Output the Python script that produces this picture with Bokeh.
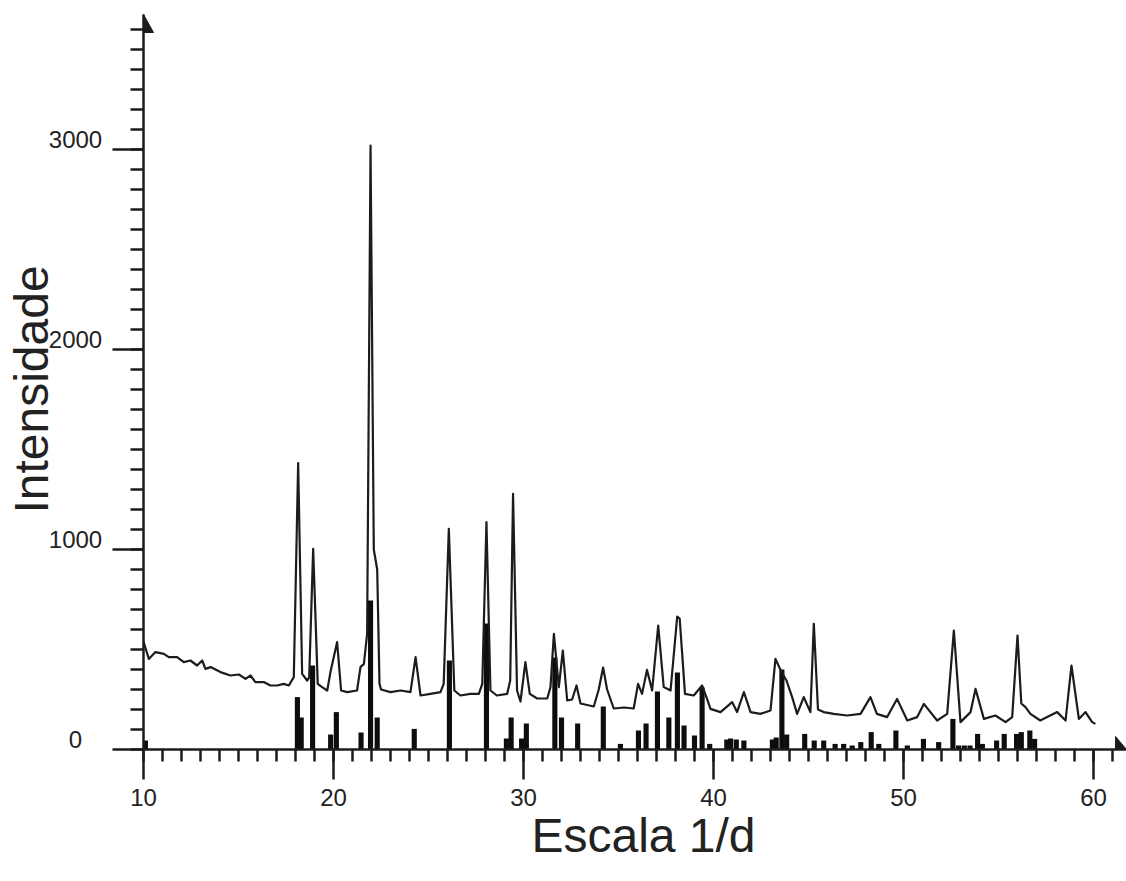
from math import pi
from bokeh.plotting import figure
from bokeh.models import (LinearAxis, SingleIntervalTicker, Range1d, Label, LabelSet,
                          ColumnDataSource, CustomJSTickFormatter)
from bokeh.core.properties import value
from bokeh.embed import file_html
from bokeh.resources import INLINE

# ---------------- data ----------------
trace_x = [10.0, 10.28, 10.63, 11.07, 11.33, 11.77, 12.12, 12.47, 12.82, 13.09, 13.26, 13.53,
           14.05, 14.58, 15.02, 15.37, 15.63, 15.89, 16.33, 16.68, 17.04, 17.38, 17.65, 17.91,
           18.14, 18.35, 18.61, 18.72, 18.93, 19.17, 19.4, 19.67, 19.84, 20.19, 20.4, 20.72,
           21.24, 21.42, 21.6, 21.77, 21.95, 22.12, 22.3, 22.42, 22.5, 23.0, 23.53, 24.05,
           24.32, 24.58, 25.1, 25.63, 25.8, 26.07, 26.36, 26.68, 27.2, 27.65, 27.83, 28.05,
           28.26, 28.6, 29.14, 29.3, 29.45, 29.66, 29.84, 30.1, 30.33, 30.72, 31.25, 31.42,
           31.6, 31.86, 32.07, 32.3, 32.56, 32.79, 33.0, 33.7, 33.96, 34.19, 34.4, 34.75,
           35.3, 35.8, 36.03, 36.24, 36.5, 36.77, 37.09, 37.38, 37.74, 38.09, 38.22, 38.5,
           38.96, 39.4, 39.66, 39.84, 40.37, 40.98, 41.24, 41.6, 41.95, 42.47, 43.0, 43.26,
           43.58, 43.84, 44.14, 44.4, 44.75, 45.1, 45.28, 45.5, 45.8, 46.33, 47.03, 47.74,
           48.26, 48.6, 49.14, 49.66, 50.2, 50.72, 51.07, 51.77, 52.3, 52.65, 53.0, 53.53,
           53.79, 54.23, 54.84, 55.37, 55.72, 56.0, 56.2, 56.42, 56.68, 57.2, 57.56, 58.09,
           58.53, 58.84, 59.23, 59.58, 59.93, 60.1]
trace_y = [540, 453, 487, 478, 462, 462, 437, 445, 420, 445, 403, 412,
           387, 370, 375, 353, 370, 337, 337, 320, 320, 328, 320, 362,
           1432, 378, 345, 360, 1003, 328, 312, 295, 387, 537, 295, 287,
           295, 412, 428, 578, 3020, 1000, 900, 330, 300, 287, 295, 287,
           462, 270, 278, 287, 328, 1103, 295, 270, 278, 278, 328, 1137,
           295, 270, 278, 345, 1278, 295, 240, 437, 278, 255, 255, 312,
           578, 312, 495, 245, 250, 320, 230, 215, 300, 410, 300, 205,
           210, 205, 328, 278, 398, 295, 620, 312, 295, 665, 655, 278,
           270, 320, 253, 203, 187, 237, 187, 287, 187, 178, 195, 453,
           387, 345, 262, 178, 262, 187, 628, 200, 187, 178, 170, 178,
           262, 178, 162, 253, 145, 162, 228, 145, 178, 595, 137, 187,
           303, 153, 170, 137, 162, 570, 230, 212, 178, 145, 162, 187,
           145, 420, 153, 187, 137, 128]

stick_x = [10.1, 18.1, 18.3, 18.9, 19.85, 20.15, 21.45, 21.95, 22.3, 24.25, 26.1, 28.05,
           29.1, 29.35, 29.9, 30.15, 31.65, 32.0, 32.85, 34.2, 35.1, 36.05, 36.45, 37.05,
           37.65, 38.1, 38.45, 39.0, 39.4, 39.8, 40.7, 40.9, 41.2, 41.6, 43.1, 43.3,
           43.6, 43.85, 44.8, 45.3, 45.8, 46.4, 46.85, 47.3, 47.75, 48.3, 48.7, 49.6,
           50.2, 51.05, 51.85, 52.6, 52.9, 53.2, 53.5, 53.9, 54.15, 54.9, 55.3, 55.95,
           56.2, 56.65, 56.9]
stick_h = [45, 262, 160, 420, 75, 187, 85, 745, 160, 103, 445, 630,
           55, 160, 55, 130, 460, 160, 130, 215, 28, 95, 130, 290,
           160, 385, 120, 70, 310, 28, 50, 55, 50, 45, 50, 60,
           400, 75, 78, 45, 45, 28, 28, 20, 37, 87, 28, 95,
           20, 53, 37, 153, 20, 20, 20, 78, 28, 45, 78, 78,
           87, 95, 53]

y_ticks = [0, 1000, 2000, 3000]
y_tick_labels = ["0", "1000", "2000", "3000"]
x_title = "Escala 1/d"
y_title = "Intensidade"

# ---------------- layout ----------------
W, H = 1126, 881              # figure size (the page template has no margin)
ORIGIN_PX = (143, 749)        # pixel position of the axes origin inside the figure
PX_X, PX_Y = 19.0, 0.2        # pixels per data unit
X_ORIGIN, Y_ORIGIN = 10, 0
X_START = X_ORIGIN - ORIGIN_PX[0] / PX_X
X_END = X_ORIGIN + (W - ORIGIN_PX[0]) / PX_X
Y_START = Y_ORIGIN - (H - ORIGIN_PX[1]) / PX_Y
Y_END = Y_ORIGIN + ORIGIN_PX[1] / PX_Y
Y_TIP = Y_ORIGIN + (ORIGIN_PX[1] - 14) / PX_Y  # top of the y axis arrow
X_TIP = X_END                                  # right end of the x axis arrow

INK = "#1c1c1c"
TXT = "#222222"
FONT = "Liberation Sans"

p = figure(width=W, height=H, x_range=Range1d(X_START, X_END), y_range=Range1d(Y_START, Y_END),
           x_axis_location=None, y_axis_location=None, toolbar_location=None,
           output_backend="svg", min_border_left=0, min_border_right=0,
           min_border_top=0, min_border_bottom=0)
p.grid.visible = False
p.outline_line_color = None
p.background_fill_color = "white"
p.border_fill_color = "white"


def style(ax, major_out, minor_out):
    ax.major_tick_out = major_out
    ax.major_tick_in = 0
    ax.minor_tick_out = minor_out
    ax.minor_tick_in = 0
    ax.axis_line_width = 2.5
    ax.major_tick_line_width = 2.5
    ax.minor_tick_line_width = 2.5
    ax.axis_line_color = INK
    ax.major_tick_line_color = INK
    ax.minor_tick_line_color = INK


xax = LinearAxis(ticker=SingleIntervalTicker(interval=10, num_minor_ticks=10),
                 fixed_location=Y_ORIGIN, bounds=(X_ORIGIN, X_TIP))
style(xax, 30, 12)
xax.major_label_text_font = FONT
xax.major_label_text_font_size = "24px"
xax.major_label_text_color = TXT
xax.major_label_standoff = 9
p.add_layout(xax, "below")

yax = LinearAxis(ticker=SingleIntervalTicker(interval=1000, num_minor_ticks=10),
                 formatter=CustomJSTickFormatter(code="return ''"),
                 fixed_location=X_ORIGIN, bounds=(Y_ORIGIN, Y_TIP))
style(yax, 31, 13)
yax.major_label_standoff = 0
p.add_layout(yax, "left")

# sticks and trace
p.vbar(x=stick_x, top=stick_h, bottom=0, width=0.27, fill_color="#0d0d0d", line_color=None)
p.line(trace_x, trace_y, line_color=INK, line_width=2.2, line_join="round")

# half arrowheads at the axis ends
p.patch([X_TIP, X_TIP - 11 / PX_X, X_TIP - 11 / PX_X],
        [Y_ORIGIN, Y_ORIGIN + 13 / PX_Y, Y_ORIGIN], color=INK)
p.patch([X_ORIGIN, X_ORIGIN + 10 / PX_X, X_ORIGIN],
        [Y_TIP, Y_TIP - 18 / PX_Y, Y_TIP - 18 / PX_Y], color=INK)

# y tick labels (centred, as in the reference)
src = ColumnDataSource(dict(x=[X_ORIGIN] * len(y_ticks), y=y_ticks, text=y_tick_labels))
p.add_layout(LabelSet(x="x", y="y", text="text", source=src, x_offset=-68, y_offset=2,
                      text_align="center", text_baseline="alphabetic",
                      text_font=value(FONT), text_font_size=value("24px"),
                      text_color=TXT))

# axis titles
p.add_layout(Label(x=X_ORIGIN + 500 / PX_X, y=Y_ORIGIN, y_offset=-86, text=x_title,
                   text_align="center", text_baseline="middle",
                   text_font=FONT, text_font_size="48px", text_color=TXT))
p.add_layout(Label(x=X_ORIGIN, y=1800, x_offset=-112, angle=pi / 2, text=y_title,
                   text_align="center", text_baseline="middle",
                   text_font=FONT, text_font_size="48px", text_color=TXT))

open("out.html", "w").write(file_html(p, INLINE))
